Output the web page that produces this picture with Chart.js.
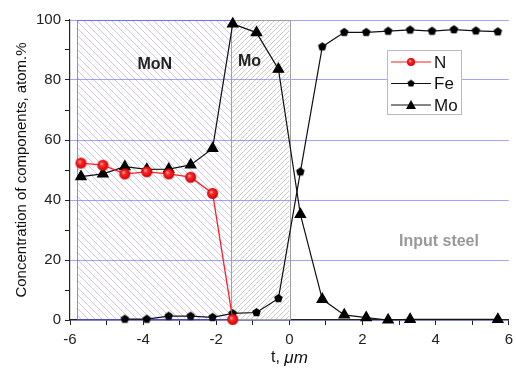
<!DOCTYPE html>
<html>
<head>
<meta charset="utf-8">
<script src="https://cdn.jsdelivr.net/npm/chart.js@4.4.1/dist/chart.umd.min.js"></script>
<style>
  html, body { margin: 0; padding: 0; background: #fff; }
</style>
</head>
<body>
<canvas id="chart" width="516" height="372"></canvas>
<script>
// depth positions, um
var xN  = [-5.7, -5.1, -4.5, -3.9, -3.3, -2.7, -2.1, -1.55];
var xFe = [-4.5, -3.9, -3.3, -2.7, -2.1, -1.55, -0.9, -0.3, 0.3, 0.9, 1.5, 2.1, 2.7, 3.3, 3.9, 4.5, 5.1, 5.7];
var xMo = [-5.7, -5.1, -4.5, -3.9, -3.3, -2.7, -2.1, -1.55, -0.9, -0.3, 0.3, 0.9, 1.5, 2.1, 2.7, 3.3, 5.7];

// concentrations, atom.%
var nVals  = [52.3, 51.6, 48.7, 49.4, 48.7, 47.6, 42.2, 0.2];
var feVals = [0.3, 0.3, 1.3, 1.3, 0.9, 2.2, 2.5, 7.2, 49.4, 91.1, 95.9, 95.9, 96.3, 96.7, 96.3, 96.8, 96.4, 96.1];
var moVals = [47.8, 48.7, 51.1, 50.2, 50.3, 51.7, 57.2, 98.7, 95.8, 83.6, 35.2, 6.9, 1.7, 0.8, 0.0, 0.2, 0.2];

var seriesNames = ['N', 'Fe', 'Mo'];

// layer boundaries along t
var layerMoN = [-5.8, -1.6];
var layerMo  = [-1.6, 0];

var FONT = "'Liberation Sans', Arial, sans-serif";

function toPoints(xs, ys) {
  return xs.map(function(x, i) { return { x: x, y: ys[i] }; });
}

function makePentagon(r, color) {
  var c = document.createElement('canvas');
  var s = Math.ceil(r * 2 + 2);
  c.width = c.height = s;
  var g = c.getContext('2d');
  g.fillStyle = color;
  g.beginPath();
  for (var i = 0; i < 5; i++) {
    var a = -Math.PI / 2 + i * 2 * Math.PI / 5;
    var px = s / 2 + r * Math.cos(a), py = s / 2 + r * Math.sin(a);
    if (i) g.lineTo(px, py); else g.moveTo(px, py);
  }
  g.closePath();
  g.fill();
  return c;
}

function makeBall(r) {
  var c = document.createElement('canvas');
  var s = Math.ceil(r * 2 + 2);
  c.width = c.height = s;
  var g = c.getContext('2d');
  var grad = g.createRadialGradient(s / 2 - r * 0.3, s / 2 - r * 0.3, 0, s / 2, s / 2, r);
  grad.addColorStop(0, '#ffd6d6');
  grad.addColorStop(0.35, '#ff2a2a');
  grad.addColorStop(1, '#d40000');
  g.fillStyle = grad;
  g.beginPath();
  g.arc(s / 2, s / 2, r, 0, Math.PI * 2);
  g.fill();
  return c;
}

function makeHatch(size, color, dir) {
  var c = document.createElement('canvas');
  c.width = c.height = size;
  var g = c.getContext('2d');
  g.strokeStyle = color;
  g.lineWidth = 1;
  g.beginPath();
  for (var k = -1; k <= 1; k++) {
    if (dir === '\\') {
      g.moveTo(k * size, 0); g.lineTo(k * size + size, size);
    } else {
      g.moveTo(k * size, size); g.lineTo(k * size + size, 0);
    }
  }
  g.stroke();
  return c;
}

var ballBig = makeBall(5.5);
var ballSmall = makeBall(4);
var pentBig = makePentagon(4.5, '#000');
var pentSmall = makePentagon(3.8, '#000');

var overlay = {
  id: 'overlay',
  beforeDatasetsDraw: function(chart) {
    var ctx = chart.ctx, xs = chart.scales.x, ys = chart.scales.y;
    var top = ys.getPixelForValue(100), bot = ys.getPixelForValue(0);
    var boxes = [
      { r: layerMoN, hatch: makeHatch(7, 'rgba(110,110,250,0.38)', '\\'), border: 'rgba(90,90,255,0.7)' },
      { r: layerMo, hatch: makeHatch(5, 'rgba(130,130,130,0.42)', '/'), border: '#a0a0a0' }
    ];
    ctx.save();
    boxes.forEach(function(b) {
      var l = xs.getPixelForValue(b.r[0]), rt = xs.getPixelForValue(b.r[1]);
      ctx.fillStyle = ctx.createPattern(b.hatch, 'repeat');
      ctx.fillRect(l, top, rt - l, bot - top);
      ctx.strokeStyle = b.border;
      ctx.lineWidth = 1;
      ctx.strokeRect(Math.round(l) + 0.5, Math.round(top) + 0.5, Math.round(rt - l), Math.round(bot - top) - 1);
    });
    ctx.restore();
  },
  afterDatasetsDraw: function(chart) {
    var ctx = chart.ctx, xs = chart.scales.x, ys = chart.scales.y;
    ctx.save();
    ctx.textAlign = 'center';
    ctx.textBaseline = 'middle';
    ctx.font = 'bold 16px ' + FONT;
    ctx.fillStyle = '#222';
    ctx.fillText('MoN', xs.getPixelForValue(-3.68), ys.getPixelForValue(85));
    ctx.fillText('Mo', xs.getPixelForValue(-1.09), ys.getPixelForValue(86));
    ctx.fillStyle = '#999';
    ctx.fillText('Input steel', xs.getPixelForValue(4.09), ys.getPixelForValue(26.3));
    ctx.restore();
  },
  afterDraw: function(chart) {
    var ctx = chart.ctx, area = chart.chartArea;
    // legend
    var lx = 387, ly = 50, lw = 74, lh = 64;
    ctx.save();
    ctx.fillStyle = '#fff';
    ctx.fillRect(lx, ly, lw, lh);
    ctx.strokeStyle = '#bbb';
    ctx.lineWidth = 1;
    ctx.strokeRect(lx + 0.5, ly + 0.5, lw, lh);
    var marks = [ballSmall, pentSmall, null];
    chart.data.datasets.forEach(function(ds, i) {
      var yy = ly + 12 + i * 21.5;
      ctx.strokeStyle = ds.borderColor;
      ctx.lineWidth = 1.2;
      ctx.beginPath();
      ctx.moveTo(lx + 4, yy); ctx.lineTo(lx + 44, yy);
      ctx.stroke();
      var m = marks[i];
      if (m) {
        ctx.drawImage(m, lx + 24 - m.width / 2, yy - m.height / 2);
      } else {
        ctx.fillStyle = '#000';
        ctx.beginPath();
        ctx.moveTo(lx + 24, yy - 5); ctx.lineTo(lx + 29, yy + 4); ctx.lineTo(lx + 19, yy + 4);
        ctx.closePath(); ctx.fill();
      }
      ctx.fillStyle = '#111';
      ctx.font = '17px ' + FONT;
      ctx.textAlign = 'left';
      ctx.textBaseline = 'middle';
      ctx.fillText(ds.label, lx + 47, yy + 1);
    });
    // x axis title with italic unit
    var cx = (area.left + area.right) / 2, ty = 358;
    ctx.fillStyle = '#111';
    ctx.textBaseline = 'middle';
    var a = 't, ';
    ctx.font = '16px ' + FONT;
    var wa = ctx.measureText(a).width;
    ctx.font = 'italic 17px ' + FONT;
    var wb = ctx.measureText('\u03bcm').width;
    var x0 = cx - (wa + wb) / 2;
    ctx.font = '16px ' + FONT;
    ctx.textAlign = 'left';
    ctx.fillText(a, x0, ty);
    ctx.font = 'italic 17px ' + FONT;
    ctx.fillText('\u03bcm', x0 + wa, ty);
    ctx.restore();
  }
};

new Chart(document.getElementById('chart'), {
  type: 'scatter',
  data: {
    datasets: [{
      label: seriesNames[0],
      data: toPoints(xN, nVals),
      showLine: true,
      borderColor: '#ff2020',
      borderWidth: 1.3,
      pointStyle: ballBig,
      clip: false
    }, {
      label: seriesNames[1],
      data: toPoints(xFe, feVals),
      showLine: true,
      borderColor: '#111',
      borderWidth: 1.2,
      pointStyle: pentBig,
      clip: false
    }, {
      label: seriesNames[2],
      data: toPoints(xMo, moVals),
      showLine: true,
      borderColor: '#111',
      borderWidth: 1.2,
      pointStyle: 'triangle',
      pointRadius: 6,
      backgroundColor: '#000',
      pointBorderColor: '#000',
      clip: false
    }]
  },
  options: {
    responsive: false,
    animation: false,
    layout: { padding: { top: 20, right: 6, left: 0, bottom: 0 } },
    plugins: {
      legend: { display: false },
      tooltip: { enabled: false }
    },
    scales: {
      x: {
        type: 'linear',
        min: -6,
        max: 6,
        afterFit: function(s) { s.height = 52; s.paddingLeft = 0; s.paddingRight = 0; },
        ticks: {
          stepSize: 1,
          color: '#222',
          padding: 6,
          maxRotation: 0,
          font: { family: FONT, size: 15 },
          callback: function(v) { return v % 2 === 0 ? v : ''; }
        },
        grid: {
          color: 'transparent',
          tickColor: '#222',
          tickLength: 5
        },
        border: { color: '#222', width: 1.2 }
      },
      y: {
        min: 0,
        max: 100,
        afterFit: function(s) { s.width = 70; s.paddingTop = 0; s.paddingBottom = 0; },
        ticks: {
          stepSize: 10,
          color: '#222',
          padding: 4,
          font: { family: FONT, size: 15 },
          callback: function(v) { return v % 20 === 0 ? v : ''; }
        },
        grid: {
          color: function(c) { return c.tick && c.tick.value % 20 === 0 ? 'rgba(100,100,255,0.6)' : 'transparent'; },
          tickColor: '#222',
          tickLength: 5
        },
        border: { color: '#222', width: 1.2 },
        title: {
          display: true,
          text: 'Concentration of components, atom.%',
          color: '#111',
          font: { family: FONT, size: 15 },
          padding: { top: 13, bottom: 0 }
        }
      }
    }
  },
  plugins: [overlay]
});
</script>
</body>
</html>
